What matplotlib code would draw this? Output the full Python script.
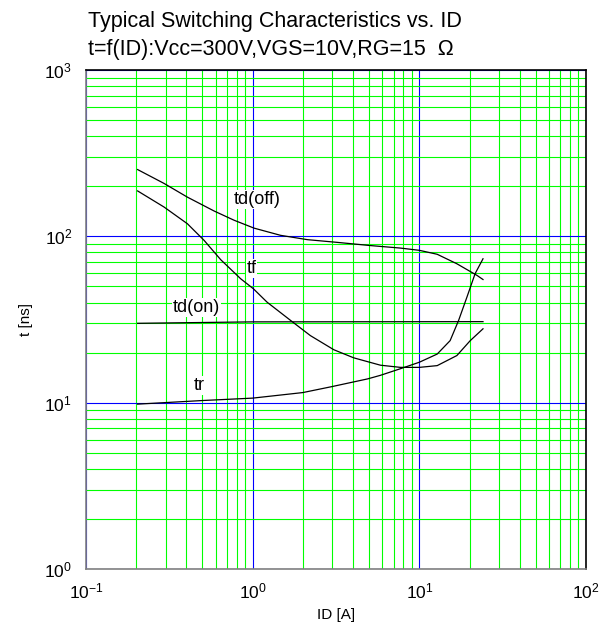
import matplotlib
matplotlib.use("Agg")
import matplotlib.pyplot as plt
import numpy as np

plt.rcParams['font.family'] = ['Liberation Sans', 'DejaVu Sans']
plt.rcParams['mathtext.fontset'] = 'custom'
plt.rcParams['mathtext.rm'] = 'Liberation Sans'

# data (ID in A, t in ns)
id_toff = [0.204, 0.294, 0.406, 0.587, 0.773, 1.02, 1.47, 2.13, 3.21, 5.09, 7.7, 10, 12.8, 16.8, 22.2, 24.1]
t_toff = [252, 208, 172, 142, 125, 112, 101.4, 95.5, 92, 88, 85, 82.4, 78, 68.4, 58.2, 55]

id_tf = [0.204, 0.294, 0.406, 0.511, 0.643, 0.847, 1.01, 1.22, 1.69, 2.22, 3.07, 4.04, 5.84, 7.7, 10, 12.8, 16.8, 20.2, 24.1]
t_tf = [187.5, 150, 119, 94.6, 72.4, 55.6, 48.4, 40.2, 31.2, 25.3, 20.8, 18.6, 16.8, 16.3, 16.3, 16.7, 19.2, 23.6, 27.8]

id_ton = [0.204, 1, 24.1]
t_ton = [30, 30.6, 30.7]

id_tr = [0.204, 0.5, 1, 2, 3, 4.9, 5.84, 7.7, 10, 12.8, 15.3, 17.2, 19.3, 21.6, 24.1]
t_tr = [9.8, 10.3, 10.65, 11.5, 12.5, 13.9, 14.6, 16, 17.5, 19.6, 23.6, 31.2, 43.1, 59.6, 73.3]

x_ticks = [0.1, 1, 10, 100]
x_labels = ['$\\mathregular{10^{-1}}$', '$\\mathregular{10^{0}}$', '$\\mathregular{10^{1}}$', '$\\mathregular{10^{2}}$']
y_ticks = [1, 10, 100, 1000]
y_labels = ['$\\mathregular{10^{0}}$', '$\\mathregular{10^{1}}$', '$\\mathregular{10^{2}}$', '$\\mathregular{10^{3}}$']

fig = plt.figure(figsize=(6.1, 6.33), dpi=100)
ax = fig.add_axes([86/610, 1-569/633, 500/610, 499/633])
ax.set_xscale('log')
ax.set_yscale('log')
ax.set_xlim(0.1, 100)
ax.set_ylim(1, 1000)

# grid: green minor, blue major
ax.grid(True, which='minor', color='#00ff00', lw=0.8)
ax.grid(True, which='major', color='#0000ff', lw=0.8)
ax.set_axisbelow(True)

for xs, ys in [(id_toff, t_toff), (id_tf, t_tf), (id_ton, t_ton), (id_tr, t_tr)]:
    ax.plot(xs, ys, color='black', lw=0.9)

lbl = dict(fontsize=13, ha='center', va='center',
           bbox=dict(facecolor='white', edgecolor='none', pad=0.5))
ax.text(1.067, 167, 'td(off)', **lbl)
ax.text(0.986, 64, 'tf', **lbl)
ax.text(0.46, 37.3, 'td(on)', **lbl)
ax.text(0.475, 12.7, 'tr', **lbl)

ax.set_xticks(x_ticks)
ax.set_xticklabels(x_labels, fontsize=12.5)
ax.set_yticks(y_ticks)
ax.set_yticklabels(y_labels, fontsize=12.5)
ax.tick_params(which='both', length=0)
ax.tick_params(axis='x', pad=9)
ax.tick_params(axis='y', pad=10)

ax.spines['left'].set_color('#808080')
ax.spines['bottom'].set_color('#808080')
for s in ['left', 'bottom', 'top', 'right']:
    ax.spines[s].set_linewidth(1.2)

ax.set_xlabel('ID [A]', fontsize=11, labelpad=5)
ax.set_ylabel('t [ns]', fontsize=11, labelpad=8)

fig.text(88/610, 1-22/633, 'Typical Switching Characteristics vs. ID', fontsize=15.5, va='center')
fig.text(88/610, 1-49/633, 't=f(ID):Vcc=300V,VGS=10V,RG=15  \u03a9', fontsize=15.5, va='center')

fig.savefig('out.png', dpi=100)
